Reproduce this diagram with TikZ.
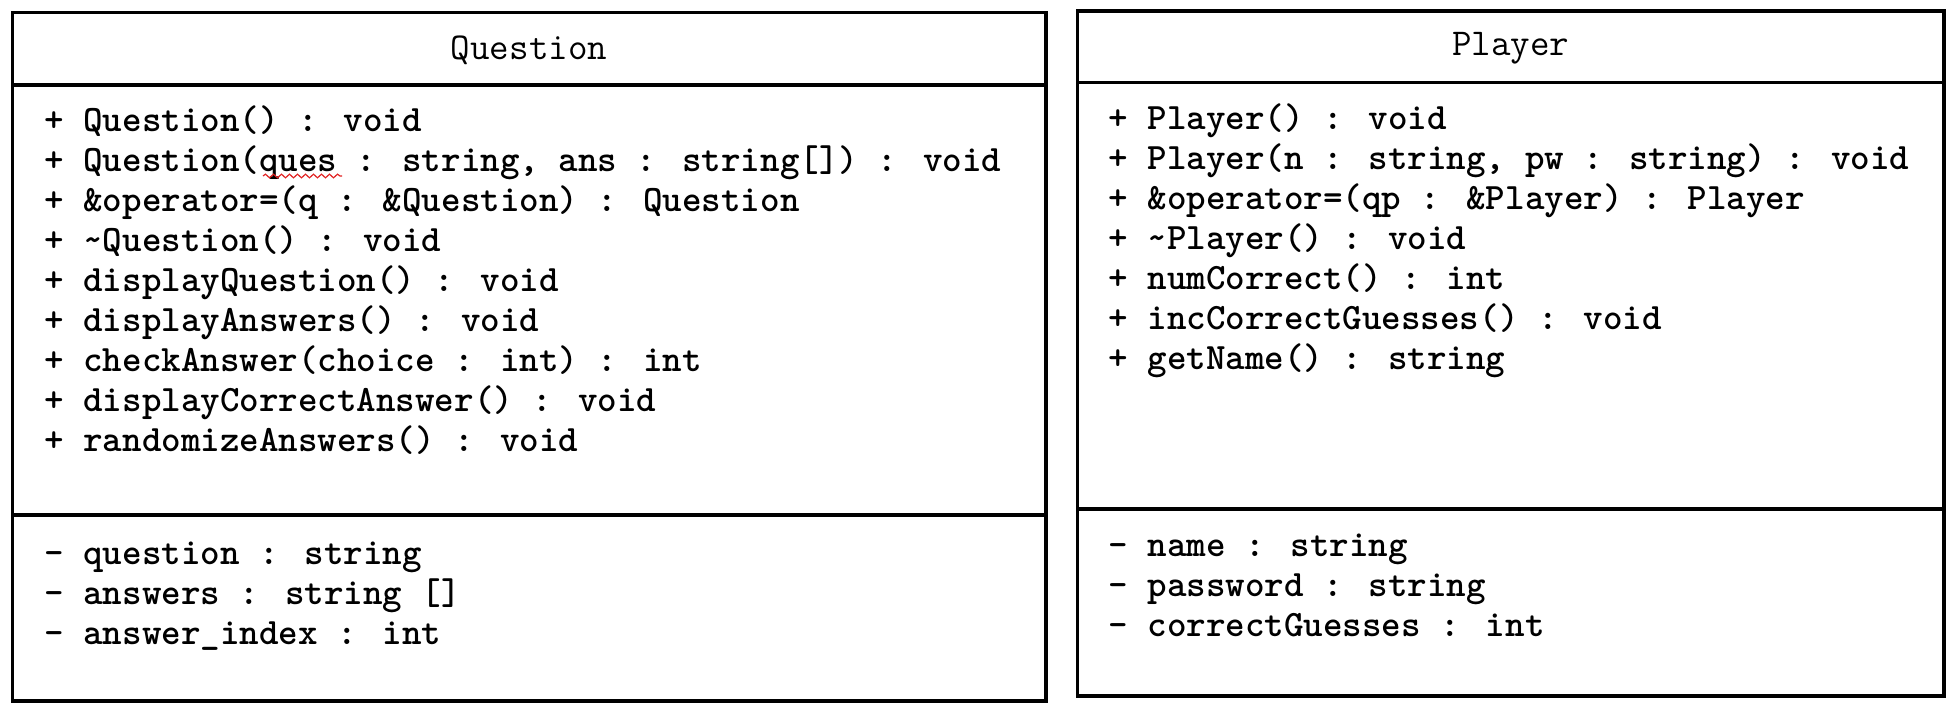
\documentclass[tikz,border=0pt]{standalone}
\usepackage{fontspec}
\usetikzlibrary{decorations.pathmorphing}
\definecolor{spellred}{RGB}{224,32,32}

\begin{document}
\begin{tikzpicture}[x=0.5pt,y=-0.5pt,
  classbox/.style={line width=1.7pt},
  member/.style={anchor=base west, inner sep=0pt,
    font=\ttfamily\bfseries\fontsize{18.6pt}{20pt}\selectfont},
  ctitle/.style={inner sep=0pt,
    font=\ttfamily\fontsize{18.95pt}{20pt}\selectfont}]
\useasboundingbox (0,0) rectangle (1960,713);

% ---- class Question ----
\draw[classbox] (12.5,12.5) rectangle (1046,701);
\draw[classbox] (12.5,85) -- (1046,85);
\draw[classbox] (12.5,515) -- (1046,515);
\node[ctitle] (qtitle) at (529,50) {Question};

\foreach \t [count=\i] in {
  {+ Question() : void},
  {+ Question(ques : string, ans : string[]) : void},
  {+ \&operator=(q : \&Question) : Question},
  {+ \textasciitilde Question() : void},
  {+ displayQuestion() : void},
  {+ displayAnswers() : void},
  {+ checkAnswer(choice : int) : int},
  {+ displayCorrectAnswer() : void},
  {+ randomizeAnswers() : void}}
  \node[member] (qm\i) at (44,{131+40*(\i-1)}) {\t};

\foreach \t [count=\i] in {
  {- question : string},
  {- answers : string []},
  {- answer\_index : int}}
  \node[member] (qa\i) at (44,{564+40*(\i-1)}) {\t};

% spell-check mark under "ques"
\draw[spellred, line width=0.6pt, decorate,
      decoration={snake, amplitude=0.9pt, segment length=4pt}]
  (263,176) -- (342,176);

% ---- class Player ----
\draw[classbox] (1077.5,11) rectangle (1944,696);
\draw[classbox] (1077.5,82.5) -- (1944,82.5);
\draw[classbox] (1077.5,509) -- (1944,509);
\node[ctitle] (ptitle) at (1510.75,48) {Player};

\foreach \t [count=\i] in {
  {+ Player() : void},
  {+ Player(n : string, pw : string) : void},
  {+ \&operator=(qp : \&Player) : Player},
  {+ \textasciitilde Player() : void},
  {+ numCorrect() : int},
  {+ incCorrectGuesses() : void},
  {+ getName() : string}}
  \node[member] (pm\i) at (1108,{129+40*(\i-1)}) {\t};

\foreach \t [count=\i] in {
  {- name : string},
  {- password : string},
  {- correctGuesses : int}}
  \node[member] (pa\i) at (1108,{556+40*(\i-1)}) {\t};
\end{tikzpicture}
\end{document}
